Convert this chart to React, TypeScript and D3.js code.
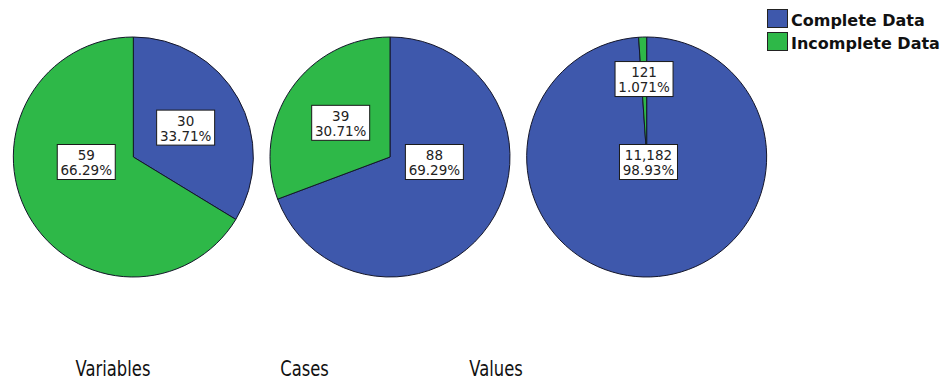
import React from "react";
import * as d3 from "d3";

// Missing-value summary: three pies (variables, cases, values)
const groups = ["Variables", "Cases", "Values"];
const seriesNames = ["Complete Data", "Incomplete Data"];
const completeCounts = [30, 88, 11182];
const incompleteCounts = [59, 39, 121];
const seriesColors = ["#3E58AC", "#2EB848"];

const W = 952;
const H = 381;
const R = 120;
const CY = 157;

const fmtCount = d3.format(",");
const fmtPct = d3.format(".4r");

type Slice = { name: string; value: number; total: number; color: string };

// place the label of a slice: dominant slices sit near the centre line,
// minor slices at the arc centroid (thin ones pushed outwards)
function labelPoint(a: d3.PieArcDatum<Slice>, r: number): [number, number] {
  const mid = (a.startAngle + a.endAngle) / 2;
  const frac = (a.endAngle - a.startAngle) / (2 * Math.PI);
  if (frac > 0.5) return [r * 0.5 * Math.sin(mid) * 0.9, 5];
  const k = frac < 0.05 ? 0.65 : 0.5;
  return [r * k * Math.sin(mid), -r * k * Math.cos(mid)];
}

export default function App() {
  const pieX = d3.scaleBand<string>().domain(groups).range([5, 775]);
  const titleX = d3.scalePoint<string>().domain(groups).range([113, 496]);
  const pie = d3
    .pie<Slice>()
    .sort(null)
    .value((d) => d.value);
  const arc = d3.arc<d3.PieArcDatum<Slice>>().innerRadius(0).outerRadius(R);

  const boxW = 58;
  const boxH = 35;

  return (
    <svg
      width={W}
      height={H}
      style={{ position: "absolute", left: 0, top: 0, background: "#fff" }}
      fontFamily="DejaVu Sans, Verdana, sans-serif"
    >
      <rect width={W} height={H} fill="#fff" />
      {groups.map((g, i) => {
        const total = completeCounts[i] + incompleteCounts[i];
        const slices: Slice[] = [
          { name: seriesNames[0], value: completeCounts[i], total, color: seriesColors[0] },
          { name: seriesNames[1], value: incompleteCounts[i], total, color: seriesColors[1] },
        ];
        const arcs = pie(slices);
        const cx = (pieX(g) as number) + pieX.bandwidth() / 2;
        return (
          <g key={g} transform={`translate(${cx},${CY})`}>
            {arcs.map((a) => (
              <path
                key={a.data.name}
                d={arc(a) as string}
                fill={a.data.color}
                stroke="#14162a"
                strokeWidth={1}
                strokeLinejoin="round"
              />
            ))}
            {arcs.map((a) => {
              const [lx, ly] = labelPoint(a, R);
              return (
                <g key={a.data.name + "-lbl"} transform={`translate(${lx},${ly})`}>
                  <rect
                    x={-boxW / 2}
                    y={-boxH / 2}
                    width={boxW}
                    height={boxH}
                    fill="#fff"
                    stroke="#1a1a1a"
                    strokeWidth={1}
                  />
                  <text textAnchor="middle" fontSize={13.5} fill="#222" y={-2}>
                    {fmtCount(a.data.value)}
                  </text>
                  <text textAnchor="middle" fontSize={13.5} fill="#222" y={13}>
                    {fmtPct((a.data.value / a.data.total) * 100) + "%"}
                  </text>
                </g>
              );
            })}
          </g>
        );
      })}
      {groups.map((g) => (
        <text
          key={g + "-title"}
          transform={`translate(${titleX(g)},376) scale(0.78,1)`}
          textAnchor="middle"
          fontSize={21}
          fill="#111"
        >
          {g}
        </text>
      ))}
      <g transform="translate(767,9)">
        {seriesNames.map((s, i) => (
          <g key={s} transform={`translate(0,${i * 23})`}>
            <rect x={0.5} y={0.5} width={20} height={18} fill={seriesColors[i]} stroke="#222" strokeWidth={1} />
            <text x={24} y={16.5} fontSize={16} fontWeight="bold" fill="#111">
              {s}
            </text>
          </g>
        ))}
      </g>
    </svg>
  );
}
